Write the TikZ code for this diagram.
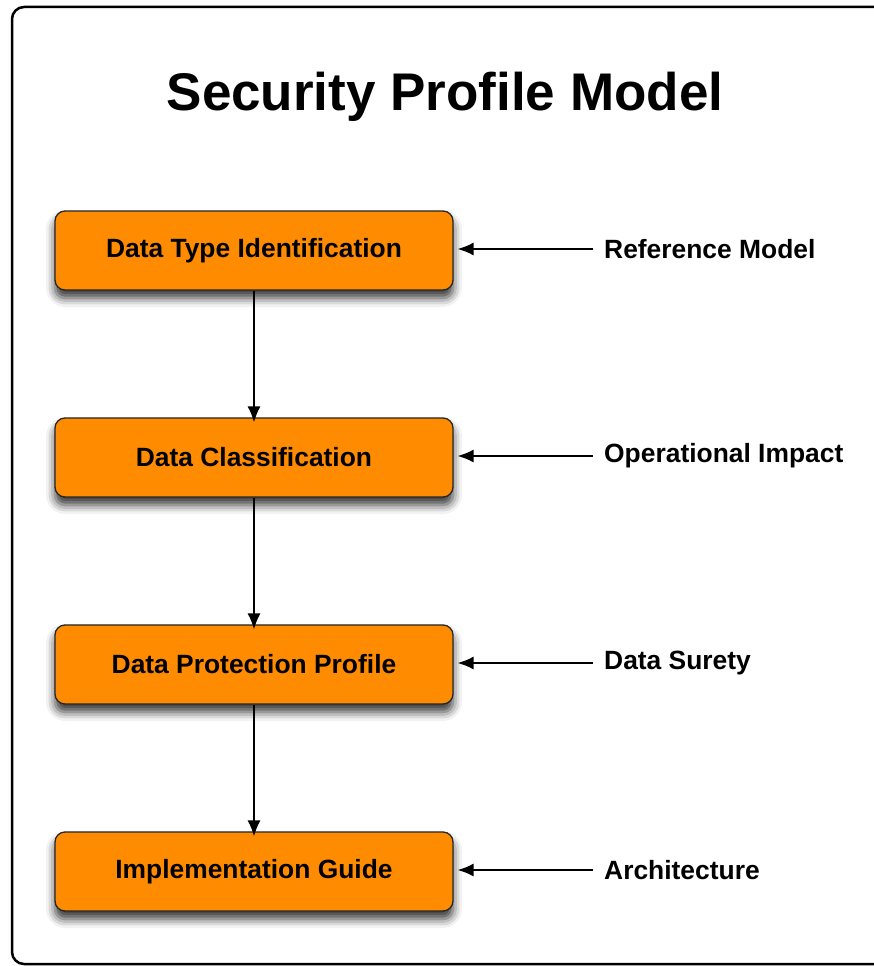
\documentclass[tikz,border=0pt]{standalone}
\usepackage{fontspec}
\setmainfont{Liberation Sans}
\usetikzlibrary{arrows.meta,shadows.blur}
\definecolor{boxorange}{HTML}{FF8C00}
\tikzset{
  stepbox/.style={draw=black!85, line width=1.3pt, fill=boxorange, rounded corners=10pt,
    minimum width=398pt, minimum height=79pt, inner sep=0pt,
    font=\fontsize{26.4}{30}\selectfont\bfseries,
    blur shadow={shadow xshift=0pt, shadow yshift=-8pt, shadow blur radius=9pt, shadow opacity=80}},
  sidelabel/.style={anchor=west, inner sep=0pt, font=\fontsize{26.4}{30}\selectfont\bfseries},
  conn/.style={line width=1.5pt, -{Latex[length=16pt,width=13pt]}}
}
\begin{document}
\begin{tikzpicture}[x=1pt,y=-1pt]
\useasboundingbox (0,0) rectangle (873,966);
\draw[line width=2.5pt, rounded corners=12pt] (12,7) rectangle (890,964);
\node[font=\fontsize{53}{60}\selectfont\bfseries] (title) at (445,97) {Security Profile Model};
\node[stepbox] (b1) at (254,250.5) {Data Type Identification};
\node[stepbox] (b2) at (254,457.5) {Data Classification};
\node[stepbox] (b3) at (254,664.5) {Data Protection Profile};
\node[stepbox] (b4) at (254,871.5) {Implementation Guide};
\node[sidelabel] (l1) at (604,249) {Reference Model};
\node[sidelabel] (l2) at (604,456) {Operational Impact};
\node[sidelabel] (l3) at (604,663) {Data Surety};
\node[sidelabel] (l4) at (604,870) {Architecture};
\foreach \i in {1,2,3,4} {
  \draw[conn] ([xshift=-11pt]l\i.west) -- ([xshift=4pt]b\i.east |- l\i.west);
}
\draw[conn] (b1.south) -- ([yshift=-5pt]b2.north);
\draw[conn] (b2.south) -- ([yshift=-5pt]b3.north);
\draw[conn] (b3.south) -- ([yshift=-5pt]b4.north);
\end{tikzpicture}
\end{document}
